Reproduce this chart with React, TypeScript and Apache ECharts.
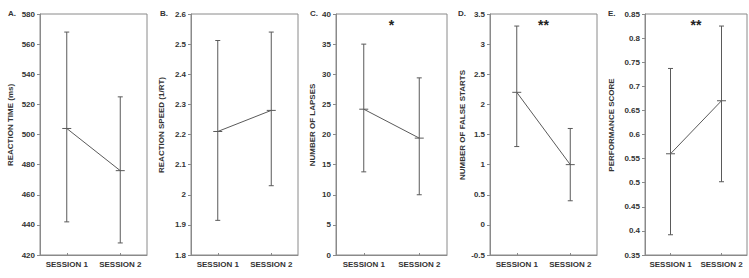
import React, { useEffect, useRef } from "react";
import * as echarts from "echarts";

const sessions = ["SESSION 1", "SESSION 2"];

const rtMean = [504, 476];
const rtLow = [442, 428];
const rtHigh = [568, 525];

const speedMean = [2.21, 2.28];
const speedLow = [1.915, 2.03];
const speedHigh = [2.512, 2.54];

const lapsesMean = [24.2, 19.4];
const lapsesLow = [13.8, 10.0];
const lapsesHigh = [35.0, 29.4];

const falseMean = [2.2, 1.0];
const falseLow = [1.3, 0.4];
const falseHigh = [3.3, 1.6];

const perfMean = [0.56, 0.67];
const perfLow = [0.392, 0.502];
const perfHigh = [0.737, 0.825];

const panels = [
  { letter: "A.", name: "REACTION TIME (ms)", mean: rtMean, low: rtLow, high: rtHigh, min: 420, max: 580, interval: 20, star: "", left: 40, width: 107, nameX: 10.5, letterX: 8, dec: 0 },
  { letter: "B.", name: "REACTION SPEED (1/RT)", mean: speedMean, low: speedLow, high: speedHigh, min: 1.8, max: 2.6, interval: 0.1, star: "", left: 191, width: 107, nameX: 161.5, letterX: 160, dec: 1 },
  { letter: "C.", name: "NUMBER OF LAPSES", mean: lapsesMean, low: lapsesLow, high: lapsesHigh, min: 0, max: 40, interval: 5, star: "*", left: 336, width: 111, nameX: 312, letterX: 310, dec: 0 },
  { letter: "D.", name: "NUMBER OF FALSE STARTS", mean: falseMean, low: falseLow, high: falseHigh, min: -0.5, max: 3.5, interval: 0.5, star: "**", left: 490, width: 107, nameX: 462, letterX: 458, dec: 1 },
  { letter: "E.", name: "PERFORMANCE SCORE", mean: perfMean, low: perfLow, high: perfHigh, min: 0.35, max: 0.85, interval: 0.05, star: "**", left: 645, width: 102, nameX: 611.5, letterX: 608, dec: 2 },
];

const TOP = 14;
const BOTTOM = 23;
const NAME_Y = 125;
const LINE = "#5a5a5a";
const FRAME = "#8a8a8a";
const TEXT = "#333";
const FONT = "'Liberation Sans', Arial, sans-serif";

function fmt(v: number, dec: number) {
  const r = Number(v.toFixed(dec + 2));
  return String(r);
}

export default function App() {
  const ref = useRef<HTMLDivElement>(null);
  useEffect(() => {
    if (!ref.current) return;
    const chart = echarts.init(ref.current, undefined, { renderer: "svg" });
    const grid: any[] = [];
    const xAxis: any[] = [];
    const yAxis: any[] = [];
    const series: any[] = [];
    const graphic: any[] = [];
    panels.forEach((p, i) => {
      grid.push({ left: p.left, width: p.width, top: TOP, bottom: BOTTOM, show: true, borderColor: FRAME, borderWidth: 1, backgroundColor: "transparent" });
      xAxis.push({
        type: "category",
        gridIndex: i,
        data: sessions,
        boundaryGap: true,
        axisLine: { show: true, onZero: false, lineStyle: { color: FRAME } },
        axisTick: { show: true, alignWithLabel: true, inside: true, length: 2, lineStyle: { color: FRAME } },
        axisLabel: { interval: 0, fontSize: 8, fontWeight: "bold", color: TEXT, fontFamily: FONT, margin: 5 },
      });
      yAxis.push({
        type: "value",
        gridIndex: i,
        min: p.min,
        max: p.max,
        interval: p.interval,
        axisLine: { show: true, lineStyle: { color: FRAME } },
        axisTick: { show: true, length: 3, lineStyle: { color: FRAME } },
        splitLine: { show: false },
        axisLabel: { fontSize: 8, fontWeight: "bold", color: TEXT, fontFamily: FONT, margin: 5, formatter: (v: number) => fmt(v, p.dec) },
      });
      series.push({
        type: "line",
        xAxisIndex: i,
        yAxisIndex: i,
        data: p.mean,
        symbol: "none",
        lineStyle: { color: LINE, width: 1 },
        z: 3,
      });
      const errData = sessions.map((_, k) => [k, p.low[k], p.high[k], p.mean[k]]);
      series.push({
        type: "custom",
        xAxisIndex: i,
        yAxisIndex: i,
        data: errData,
        encode: { x: 0, y: [1, 2, 3] },
        renderItem: (params: any, api: any) => {
          const x = api.value(0);
          const lo = api.coord([x, api.value(1)]);
          const hi = api.coord([x, api.value(2)]);
          const mid = api.coord([x, api.value(3)]);
          const cap = 2.5;
          const mcap = 4.5;
          const st = { stroke: LINE, lineWidth: 1 };
          return {
            type: "group",
            children: [
              { type: "line", shape: { x1: hi[0], y1: hi[1], x2: lo[0], y2: lo[1] }, style: st },
              { type: "line", shape: { x1: hi[0] - cap, y1: hi[1], x2: hi[0] + cap, y2: hi[1] }, style: st },
              { type: "line", shape: { x1: lo[0] - cap, y1: lo[1], x2: lo[0] + cap, y2: lo[1] }, style: st },
              { type: "line", shape: { x1: mid[0] - mcap, y1: mid[1], x2: mid[0] + mcap, y2: mid[1] }, style: st },
            ],
          };
        },
        z: 4,
      });
      graphic.push({
        type: "text",
        left: p.letterX,
        top: TOP - 5,
        style: { text: p.letter, font: `bold 8px ${FONT}`, fill: TEXT },
      });
      graphic.push({
        type: "text",
        x: p.nameX,
        y: NAME_Y,
        rotation: Math.PI / 2,
        style: { text: p.name, font: `bold 8px ${FONT}`, fill: TEXT, align: "center", verticalAlign: "middle" },
      });
      if (p.star) {
        graphic.push({
          type: "text",
          x: p.left + p.width / 2,
          y: 25,
          style: { text: p.star, font: `bold 14px ${FONT}`, fill: "#222", align: "center", verticalAlign: "middle" },
        });
      }
    });
    chart.setOption({
      animation: false,
      backgroundColor: "#fff",
      grid,
      xAxis,
      yAxis,
      series,
      graphic,
    });
    return () => chart.dispose();
  }, []);
  return <div ref={ref} style={{ position: "fixed", left: 0, top: 0, width: 749, height: 278 }} />;
}
